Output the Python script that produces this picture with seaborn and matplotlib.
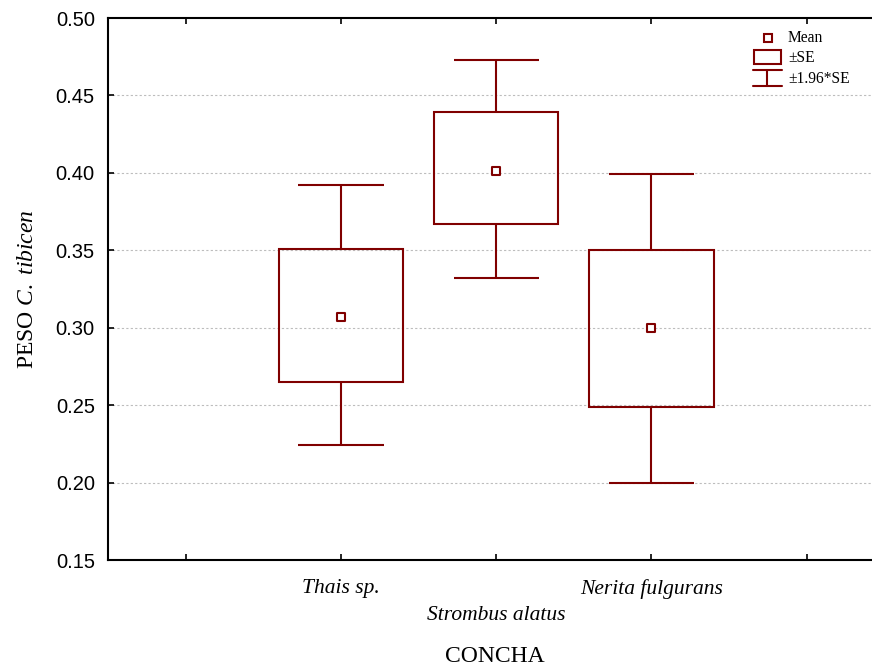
import numpy as np
import pandas as pd
import matplotlib
matplotlib.use("Agg")
import matplotlib.pyplot as plt
import seaborn as sns
from matplotlib.lines import Line2D
from matplotlib.patches import Rectangle

# Datos (media, +-SE, +-1.96*SE)
categorias = ["Thais sp.", "Strombus alatus", "Nerita fulgurans"]
media = [0.307, 0.401, 0.300]
se_inf = [0.265, 0.367, 0.249]
se_sup = [0.351, 0.439, 0.350]
ic_inf = [0.224, 0.332, 0.200]
ic_sup = [0.392, 0.473, 0.399]
y_ticks = [0.15, 0.20, 0.25, 0.30, 0.35, 0.40, 0.45, 0.50]

COLOR = "#800000"

sns.set_theme(style="white")
plt.rcParams["font.family"] = ["Liberation Sans", "DejaVu Sans"]
plt.rcParams["mathtext.fontset"] = "custom"
plt.rcParams["mathtext.rm"] = "Liberation Serif"
plt.rcParams["mathtext.it"] = "Liberation Serif:italic"
for k in ["text.color", "axes.labelcolor", "xtick.color", "ytick.color"]:
    plt.rcParams[k] = "black"

df = pd.DataFrame({
    "pos": np.arange(1, len(categorias) + 1),
    "media": media,
    "se_inf": se_inf,
    "se_sup": se_sup,
    "ic_inf": ic_inf,
    "ic_sup": ic_sup,
})

fig = plt.figure(figsize=(8.72, 6.65), dpi=100)
ax = fig.add_axes([108 / 872, 105 / 665, 1 - 108 / 872, 542 / 665])

# grid
for yv in y_ticks[1:-1]:
    ax.axhline(yv, color="#bdbdbd", lw=0.8, ls=(0, (2, 2)), zorder=0)

ancho_caja = 0.8
ancho_cap = 0.55

# cajas +-SE
ax.bar(df["pos"], df["se_sup"] - df["se_inf"], bottom=df["se_inf"], width=ancho_caja,
       facecolor="none", edgecolor=COLOR, linewidth=1.5, zorder=2)
# bigotes +-1.96*SE
ax.vlines(df["pos"], df["se_sup"], df["ic_sup"], color=COLOR, lw=1.5, zorder=2)
ax.vlines(df["pos"], df["ic_inf"], df["se_inf"], color=COLOR, lw=1.5, zorder=2)
ax.hlines(df["ic_sup"], df["pos"] - ancho_cap / 2, df["pos"] + ancho_cap / 2, color=COLOR, lw=1.5, zorder=2)
ax.hlines(df["ic_inf"], df["pos"] - ancho_cap / 2, df["pos"] + ancho_cap / 2, color=COLOR, lw=1.5, zorder=2)

# medias
sns.scatterplot(data=df, x="pos", y="media", marker="s", s=40, color="white",
                edgecolor=COLOR, linewidth=1.5, zorder=3, ax=ax, legend=False)

ax.set_xlim(-0.5, 4.42)
ax.set_ylim(0.15, 0.50)
ax.set_yticks(y_ticks)
ax.set_yticklabels([f"{v:.2f}" for v in y_ticks], fontsize=14.5)
ax.set_xticks(range(0, 5))
etiquetas = [""] + [c if i != 1 else "\n" + c for i, c in enumerate(categorias)] + [""]
ax.set_xticklabels(etiquetas, fontsize=15.5, family=["Liberation Serif"], style="italic")
for t in ax.get_xticklabels():
    if t.get_text().startswith("\n"):
        t.set_linespacing(1.55)
ax.tick_params(axis="both", direction="in", length=4, width=1.2, color="black",
               top=True, bottom=True, left=True, right=False)
ax.tick_params(axis="y", pad=9.5)
ax.tick_params(axis="x", pad=14)

for lado in ["left", "bottom", "top"]:
    ax.spines[lado].set_color("black")
    ax.spines[lado].set_linewidth(1.5)
ax.spines["right"].set_visible(False)

ax.set_ylabel(r"PESO $\mathit{C.\ tibicen}$", fontsize=17, family=["Liberation Serif"], labelpad=13)
ax.set_xlabel("")
fig.text(495 / 872, 1 - 656 / 665, "CONCHA", fontsize=17, family=["Liberation Serif"],
         ha="center", va="center")


# leyenda manual (coordenadas de figura en pixeles)
def fx(px):
    return px / 872


def fy(py):
    return 1 - py / 665


tf = fig.transFigure
fig.add_artist(Line2D([fx(768)], [fy(38)], marker="s", markersize=6, markerfacecolor="white",
                      markeredgecolor=COLOR, markeredgewidth=1.5, transform=tf))
fig.add_artist(Rectangle((fx(754), fy(64)), fx(781) - fx(754), fy(50) - fy(64), facecolor="none",
                         edgecolor=COLOR, lw=1.5, transform=tf))
fig.add_artist(Line2D([fx(753), fx(782)], [fy(70), fy(70)], color=COLOR, lw=1.5, transform=tf))
fig.add_artist(Line2D([fx(767), fx(767)], [fy(70), fy(86)], color=COLOR, lw=1.5, transform=tf))
fig.add_artist(Line2D([fx(753), fx(782)], [fy(86), fy(86)], color=COLOR, lw=1.5, transform=tf))
for ty, txt in [(38, "Mean"), (58, "±SE"), (79, "±1.96*SE")]:
    fig.text(fx(788), fy(ty), txt, fontsize=11.2, family=["Liberation Serif"], va="center", ha="left")

fig.savefig("out.png", dpi=100)
